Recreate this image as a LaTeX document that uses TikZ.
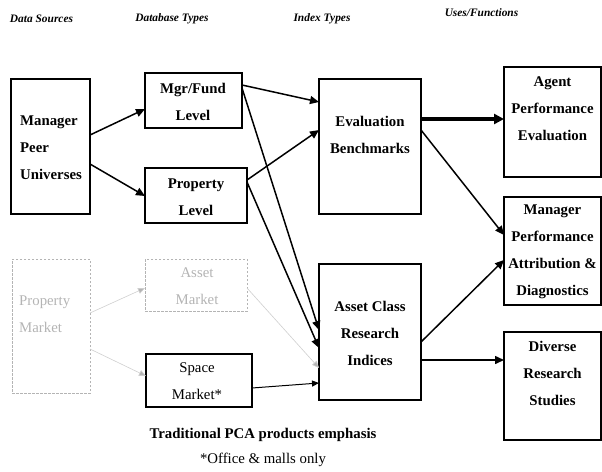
\documentclass[tikz,border=0pt]{standalone}
\usepackage{fontspec}
\setmainfont{Liberation Serif}
\usetikzlibrary{arrows.meta,calc}
\definecolor{faint}{HTML}{B4B4B4}
\definecolor{faintline}{HTML}{CFCFCF}
\begin{document}
\begin{tikzpicture}[x=1pt,y=-1pt,
  box/.style={draw,line width=1.8pt,rectangle,inner sep=0pt,outer sep=0pt,anchor=north west},
  thinbox/.style={draw,line width=1.1pt,rectangle,inner sep=0pt,outer sep=0pt,anchor=north west},
  ghostbox/.style={draw=faint,dashed,dash pattern=on 2.5pt off 1.5pt,line width=0.7pt,rectangle,inner sep=0pt,outer sep=0pt,anchor=north west},
  lbl/.style={font=\fontsize{14.8}{27}\selectfont\bfseries,align=center,inner sep=0pt},
  ghostlbl/.style={font=\fontsize{14.8}{27}\selectfont,text=faint,inner sep=0pt},
  head/.style={font=\fontsize{11.4}{13}\selectfont\bfseries\itshape,inner sep=0pt},
  arr/.style={line width=1.5pt,-{Triangle[length=9pt,width=8pt]}},
  heavyarr/.style={line width=3.2pt,-{Triangle[length=10pt,width=10pt]}},
  slimarr/.style={line width=1pt,-{Triangle[length=7pt,width=6pt]}},
  ghostarr/.style={line width=0.6pt,draw=faintline,-{Triangle[length=7pt,width=6pt,fill=faint]}}]
\useasboundingbox (0,0) rectangle (602,471);

% column headings
\node[head] (h1) at (41.5,19) {Data Sources};
\node[head] (h2) at (172,19) {Database Types};
\node[head] (h3) at (322,19) {Index Types};
\node[head] (h4) at (481.5,13) {Uses/Functions};

% boxes
\node[box,minimum width=79pt,minimum height=135pt] (mp) at (11,79) {};
\node[box,minimum width=97pt,minimum height=55pt] (mf) at (145,73) {};
\node[box,minimum width=102pt,minimum height=55pt] (pl) at (145,168) {};
\node[box,minimum width=102pt,minimum height=135pt] (eb) at (319,79) {};
\node[box,minimum width=102pt,minimum height=136pt] (ac) at (319,264) {};
\node[box,minimum width=97pt,minimum height=110pt] (ag) at (504,67) {};
\node[box,minimum width=97pt,minimum height=108pt] (mg) at (504,197) {};
\node[box,minimum width=97pt,minimum height=108pt] (dv) at (504,332) {};
\node[ghostbox,minimum width=78pt,minimum height=134pt] (pm) at (12,259) {};
\node[ghostbox,minimum width=102pt,minimum height=52pt] (am) at (145,259) {};
\node[thinbox,minimum width=106pt,minimum height=53pt] (sm) at (146,354) {};

% box texts
\node[lbl,align=left,anchor=west] (tmp) at (20,148) {Manager\\Peer\\Universes};
\node[lbl] (tmf) at (193,101.5) {Mgr/Fund\\Level};
\node[lbl] (tpl) at (196,197.5) {Property\\Level};
\node[lbl] (teb) at (370,135) {Evaluation\\Benchmarks};
\node[lbl] (tac) at (370,333.5) {Asset Class\\Research\\Indices};
\node[lbl] (tag) at (552.5,108.5) {Agent\\Performance\\Evaluation};
\node[lbl] (tmg) at (552.5,252) {Manager\\Performance\\Attribution \&\\Diagnostics};
\node[lbl] (tdv) at (552.5,373.5) {Diverse\\Research\\Studies};
\node[ghostlbl,align=left,anchor=west] (tpm) at (19,314) {Property\\Market};
\node[ghostlbl,align=center] (tam) at (197,286.5) {Asset\\Market};
\node[font=\fontsize{14.8}{27}\selectfont,align=center,inner sep=0pt] (tsm) at (197,381) {Space\\Market*};

% notes
\node[font=\fontsize{14.8}{18}\selectfont\bfseries,inner sep=0pt] (n1) at (263,435) {Traditional PCA products emphasis};
\node[font=\fontsize{14.8}{18}\selectfont,inner sep=0pt] (n2) at (263,460) {*Office \& malls only};

% connectors
\draw[arr] ($(mp.north east)+(0,56)$) -- ($(mf.north west)+(0,36)$);
\draw[arr] ($(mp.north east)+(0,85)$) -- ($(pl.north west)+(0,28)$);
\draw[arr] ($(mf.north east)+(0,12)$) -- ($(eb.north west)+(0,23)$);
\draw[arr] ($(pl.north east)+(0,12)$) -- ($(eb.north west)+(0,51)$);
\draw[arr] ($(mf.north east)+(0,15)$) -- ($(ac.north west)+(0,66)$);
\draw[arr] ($(pl.north east)+(0,14)$) -- ($(ac.north west)+(0,84)$);
\draw[ghostarr] ($(pm.north east)+(0,54)$) -- ($(am.north west)+(0,29)$);
\draw[ghostarr] ($(pm.north east)+(0,90)$) -- ($(sm.north west)+(0,22)$);
\draw[ghostarr] ($(am.north east)+(0,29)$) -- ($(ac.north west)+(0,104)$);
\draw[slimarr] ($(sm.north east)+(0,34)$) -- ($(ac.north west)+(0,119)$);
\draw[heavyarr] ($(eb.north east)+(0,40)$) -- ($(ag.north west)+(0,52)$);
\draw[arr] ($(eb.north east)+(0,51)$) -- ($(mg.north west)+(0,38)$);
\draw[arr] ($(ac.north east)+(0,78)$) -- ($(mg.north west)+(0,63)$);
\draw[arr] ($(ac.north east)+(0,96)$) -- ($(dv.north west)+(0,28)$);
\end{tikzpicture}
\end{document}
